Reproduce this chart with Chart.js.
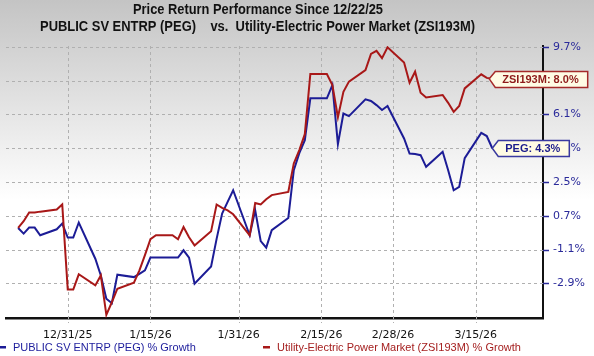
<!DOCTYPE html>
<html>
<head>
<meta charset="utf-8">
<script src="https://cdn.jsdelivr.net/npm/chart.js@4"></script>
<style>
  html, body { margin: 0; padding: 0; background: #fff; overflow: hidden; }
  canvas { display: block; }
</style>
</head>
<body>
<canvas id="c" width="594" height="356"></canvas>
<script>
// ---- data ----
const titleLine1 = 'Price Return Performance Since 12/22/25';
const titleLine2 = 'PUBLIC SV ENTRP (PEG)    vs.  Utility-Electric Power Market (ZSI193M)';
const pegLegend = 'PUBLIC SV ENTRP (PEG) % Growth';
const zsiLegend = 'Utility-Electric Power Market (ZSI193M) % Growth';
const pegCallout = 'PEG';
const zsiCallout = 'ZSI193M';

const dates = [
  '2025-12-22','2025-12-23','2025-12-24','2025-12-25','2025-12-26',
  '2025-12-29','2025-12-30','2025-12-31','2026-01-01','2026-01-02',
  '2026-01-05','2026-01-06','2026-01-07','2026-01-08','2026-01-09',
  '2026-01-12','2026-01-13','2026-01-14','2026-01-15','2026-01-16',
  '2026-01-19','2026-01-20','2026-01-21','2026-01-22','2026-01-23',
  '2026-01-26','2026-01-27','2026-01-28','2026-01-29','2026-01-30',
  '2026-02-02','2026-02-03','2026-02-04','2026-02-05','2026-02-06',
  '2026-02-09','2026-02-10','2026-02-11','2026-02-12','2026-02-13',
  '2026-02-16','2026-02-17','2026-02-18','2026-02-19','2026-02-20',
  '2026-02-23','2026-02-24','2026-02-25','2026-02-26','2026-02-27',
  '2026-03-02','2026-03-03','2026-03-04','2026-03-05','2026-03-06',
  '2026-03-09','2026-03-10','2026-03-11','2026-03-12','2026-03-13',
  '2026-03-16','2026-03-17','2026-03-18'
];

const pegGrowth = [
  0.05, -0.25, 0.07, 0.07, -0.34,
  -0.02, 0.28, -0.46, -0.46, 0.34,
  -1.59, -2.48, -3.72, -3.96, -2.44,
  -2.57, -2.40, -2.21, -1.53, -1.53,
  -1.53, -1.53, -1.14, -1.53, -2.92,
  -2.00, -0.53, 0.82, 1.44, 2.06,
  -0.34, 0.99, -0.65, -1.00, -0.07,
  0.58, 3.13, 4.04, 4.73, 6.96,
  6.96, 7.67, 4.52, 6.15, 6.01,
  6.91, 6.82, 6.60, 6.34, 6.55,
  4.82, 4.02, 3.99, 3.93, 3.31,
  4.11, 3.13, 2.06, 2.24, 3.77,
  5.12, 4.95, 4.30
];

const zsiGrowth = [
  0.05, 0.41, 0.87, 0.87, 0.92,
  1.03, 1.30, -3.23, -3.23, -2.42,
  -3.01, -2.48, -4.58, -3.91, -3.19,
  -2.87, -2.21, -1.40, -0.55, -0.34,
  -0.34, -0.55, 0.10, -0.45, -0.88,
  -0.13, 1.30, 1.12, 0.99, 0.78,
  -0.34, 1.38, 1.30, 1.58, 1.80,
  1.97, 3.49, 4.20, 5.05, 8.26,
  8.26, 7.67, 5.95, 7.31, 7.85,
  8.47, 9.33, 9.49, 9.10, 9.68,
  8.87, 7.79, 8.38, 7.26, 7.01,
  7.14, 6.72, 6.24, 6.55, 7.49,
  8.24, 8.05, 8.00
];

const xTickDates = ['2025-12-31','2026-01-15','2026-01-31','2026-02-15','2026-02-28','2026-03-15'];
const yTickValues = [-2.9, -1.1, 0.7, 2.5, 4.3, 6.1, 7.9, 9.7];

// ---- helpers ----
const DAY = 86400000;
const t0 = Date.parse(dates[0] + 'T00:00:00Z');
function dayOffset(s) { return Math.round((Date.parse(s + 'T00:00:00Z') - t0) / DAY); }
function fmtDate(s) {
  const d = new Date(s + 'T00:00:00Z');
  return (d.getUTCMonth() + 1) + '/' + d.getUTCDate() + '/' + String(d.getUTCFullYear()).slice(2);
}
const xTickVals = xTickDates.map(dayOffset);
const xTickLabelMap = {};
xTickDates.forEach(s => { xTickLabelMap[dayOffset(s)] = fmtDate(s); });

const BLUE = '#1c1c96';
const RED = '#a81818';
const NAVY_TXT = '#2a2a9a';
const GRID = '#b0b0b0';

function pts(arr) { return dates.map((d, i) => ({ x: dayOffset(d), y: arr[i] })); }

function scaledText(ctx, text, cx, cy, font, targetW, color) {
  ctx.save();
  ctx.font = font;
  ctx.fillStyle = color;
  ctx.textAlign = 'center';
  ctx.textBaseline = 'middle';
  const w = ctx.measureText(text).width;
  ctx.translate(cx, cy);
  ctx.scale(targetW / w, 1);
  ctx.fillText(text, 0, 0);
  ctx.restore();
}

const bgPlugin = {
  id: 'bg',
  beforeDraw(chart) {
    const ctx = chart.ctx;
    const g = ctx.createLinearGradient(0, 0, 0, 200);
    g.addColorStop(0, '#c4c4c4');
    g.addColorStop(1, '#ffffff');
    ctx.save();
    ctx.fillStyle = g;
    ctx.fillRect(0, 0, chart.width, chart.height);
    ctx.restore();
  }
};

// grid lines and tick marks, placed through the chart's own scales
const gridPlugin = {
  id: 'gridlines',
  beforeDatasetsDraw(chart) {
    const ctx = chart.ctx, a = chart.chartArea;
    const xs = chart.scales.x, ys = chart.scales.y;
    ctx.save();
    ctx.lineWidth = 1;
    ctx.strokeStyle = GRID;
    ctx.setLineDash([3, 3]);
    yTickValues.forEach(v => {
      const y = Math.round(ys.getPixelForValue(v)) + 0.5;
      ctx.beginPath(); ctx.moveTo(a.left, y); ctx.lineTo(a.right, y); ctx.stroke();
    });
    xTickVals.forEach(v => {
      const x = Math.round(xs.getPixelForValue(v)) + 0.5;
      ctx.beginPath(); ctx.moveTo(x, a.top); ctx.lineTo(x, a.bottom + 5); ctx.stroke();
    });
    ctx.setLineDash([]);
    ctx.strokeStyle = NAVY_TXT;
    ctx.lineWidth = 1.5;
    yTickValues.forEach(v => {
      const y = Math.round(ys.getPixelForValue(v)) + 0.5;
      ctx.beginPath(); ctx.moveTo(a.right, y); ctx.lineTo(a.right + 6, y); ctx.stroke();
    });
    ctx.restore();
  }
};

function callout(ctx, tipX, tipY, text, border, color) {
  ctx.save();
  ctx.font = 'bold 11px "Liberation Sans", Arial, sans-serif';
  const tw = ctx.measureText(text).width;
  const bx = tipX + 6, h = 16, top = Math.round(tipY - h / 2) + 0.5, right = bx + tw + 16;
  ctx.beginPath();
  ctx.moveTo(tipX, tipY);
  ctx.lineTo(bx, top);
  ctx.lineTo(right, top);
  ctx.lineTo(right, top + h);
  ctx.lineTo(bx, top + h);
  ctx.closePath();
  ctx.fillStyle = '#fffbe4';
  ctx.fill();
  ctx.lineWidth = 1.5;
  ctx.strokeStyle = border;
  ctx.stroke();
  ctx.fillStyle = color;
  ctx.textAlign = 'left';
  ctx.textBaseline = 'middle';
  ctx.fillText(text, bx + 7, top + h / 2 + 0.5);
  ctx.restore();
}

const overlayPlugin = {
  id: 'overlay',
  afterDraw(chart) {
    const ctx = chart.ctx;
    scaledText(ctx, titleLine1, 258, 10, 'bold 14px "Liberation Sans", Arial, sans-serif', 250, '#111');
    scaledText(ctx, titleLine2, 257.5, 27.5, 'bold 14px "Liberation Sans", Arial, sans-serif', 435, '#111');
    const xs = chart.scales.x, ys = chart.scales.y;
    const lastX = xs.getPixelForValue(dayOffset(dates[dates.length - 1]));
    const zv = zsiGrowth[zsiGrowth.length - 1], pv = pegGrowth[pegGrowth.length - 1];
    callout(ctx, lastX - 3, ys.getPixelForValue(zv), zsiCallout + ': ' + zv.toFixed(1) + '%', '#a52a2a', '#8e1a1a');
    callout(ctx, lastX, ys.getPixelForValue(pv), pegCallout + ': ' + pv.toFixed(1) + '%', '#3a3aa0', '#1c1c8c');
    ctx.save();
    ctx.font = '11px "Liberation Sans", Arial, sans-serif';
    ctx.textBaseline = 'middle';
    ctx.textAlign = 'left';
    ctx.fillStyle = BLUE;
    ctx.fillRect(0, 346, 6, 2.5);
    ctx.fillStyle = '#1c1c9c';
    ctx.fillText(pegLegend, 13, 347.5);
    ctx.fillStyle = RED;
    ctx.fillRect(263, 346, 7, 2.5);
    ctx.fillStyle = '#a52020';
    ctx.fillText(zsiLegend, 277, 347.5);
    ctx.restore();
  }
};

new Chart(document.getElementById('c'), {
  type: 'line',
  data: {
    datasets: [
      { label: pegLegend, data: pts(pegGrowth), borderColor: BLUE, borderWidth: 2, pointRadius: 0, tension: 0, order: 1 },
      { label: zsiLegend, data: pts(zsiGrowth), borderColor: RED, borderWidth: 2, pointRadius: 0, tension: 0, order: 0 }
    ]
  },
  options: {
    responsive: false,
    devicePixelRatio: 1,
    animation: false,
    layout: { padding: { top: 46, left: 6, right: 0, bottom: 0 } },
    plugins: { legend: { display: false }, title: { display: false }, tooltip: { enabled: false } },
    scales: {
      x: {
        type: 'linear',
        min: -2.2,
        max: 95.2,
        afterBuildTicks(scale) { scale.ticks = xTickVals.map(v => ({ value: v })); },
        afterFit(scale) { scale.height = 38; },
        ticks: {
          autoSkip: false,
          maxRotation: 0,
          padding: 11,
          color: '#111',
          font: { family: '"DejaVu Sans", Verdana, sans-serif', size: 11 },
          callback: v => xTickLabelMap[v] || ''
        },
        grid: { display: false, drawTicks: false, tickLength: 0 },
        border: { display: true, color: '#111', width: 2.5 }
      },
      y: {
        position: 'right',
        min: -4.75,
        max: 9.75,
        afterBuildTicks(scale) { scale.ticks = yTickValues.map(v => ({ value: v })); },
        afterFit(scale) { scale.width = 51; },
        ticks: {
          padding: 10,
          color: NAVY_TXT,
          font: { family: '"DejaVu Sans", Verdana, sans-serif', size: 11 },
          callback: v => v.toFixed(1) + '%'
        },
        grid: { display: false, drawTicks: false, tickLength: 0 },
        border: { display: true, color: '#111', width: 2 }
      }
    }
  },
  plugins: [bgPlugin, gridPlugin, overlayPlugin]
});
</script>
</body>
</html>
